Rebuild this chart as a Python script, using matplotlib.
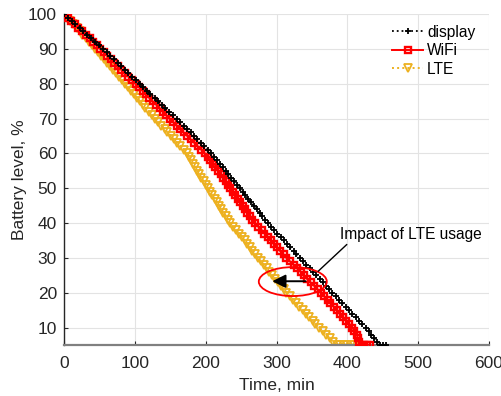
import matplotlib
matplotlib.use("Agg")
import matplotlib.pyplot as plt
from matplotlib.patches import Ellipse

plt.rcParams['font.family'] = ['Liberation Sans', 'DejaVu Sans']

# ---- data ----
display_level = [100, 99, 98, 97, 96, 95, 94, 93, 92, 91, 90, 89, 88, 87, 86, 85, 84, 83, 82, 81,
                 80, 79, 78, 77, 76, 75, 74, 73, 72, 71, 70, 69, 68, 67, 66, 65, 64, 63, 62, 61,
                 60, 59, 58, 57, 56, 55, 54, 53, 52, 51, 50, 49, 48, 47, 46, 45, 44, 43, 42, 41,
                 40, 39, 38, 37, 36, 35, 34, 33, 32, 31, 30, 29, 28, 27, 26, 25, 24, 23, 22, 21,
                 20, 19, 18, 17, 16, 15, 14, 13, 12, 11, 10, 9, 8, 7, 6, 5, 5, 5]
display_time = [0, 5, 11, 16, 22, 27, 33, 38, 44, 49, 55, 60, 65, 70, 76, 81, 86, 91, 96, 102,
                107, 112, 117, 122, 128, 133, 138, 143, 148, 154, 159, 164, 169, 174, 179, 184, 188, 193, 198, 203,
                208, 212, 216, 220, 224, 228, 232, 236, 240, 244, 248, 252, 256, 260, 264, 268, 272, 276, 280, 284,
                288, 292, 297, 301, 306, 310, 315, 319, 324, 328, 333, 338, 342, 347, 351, 356, 361, 365, 370, 374,
                379, 384, 388, 393, 398, 403, 407, 412, 417, 421, 426, 430, 434, 438, 442, 446, 450, 455]

wifi_level = [100, 99, 98, 97, 96, 95, 94, 93, 92, 91, 90, 89, 88, 87, 86, 85, 84, 83, 82, 81,
              80, 79, 78, 77, 76, 75, 74, 73, 72, 71, 70, 69, 68, 67, 66, 65, 64, 63, 62, 61,
              60, 59, 58, 57, 56, 55, 54, 53, 52, 51, 50, 49, 48, 47, 46, 45, 44, 43, 42, 41,
              40, 39, 38, 37, 36, 35, 34, 33, 32, 31, 30, 29, 28, 27, 26, 25, 24, 23, 22, 21,
              20, 19, 18, 17, 16, 15, 14, 13, 12, 11, 10, 9, 8, 7, 6, 5, 5, 5, 5]
wifi_time = [0, 5, 10, 15, 20, 26, 31, 36, 41, 46, 51, 56, 61, 66, 71, 76, 81, 86, 91, 96,
             101, 106, 111, 116, 120, 125, 130, 135, 140, 144, 149, 154, 159, 164, 169, 174, 179, 184, 189, 194,
             199, 203, 206, 210, 213, 217, 221, 224, 228, 231, 235, 238, 242, 245, 249, 252, 256, 259, 263, 266,
             270, 274, 279, 283, 288, 292, 296, 301, 305, 310, 314, 319, 324, 329, 334, 339, 343, 348, 353, 358,
             363, 367, 372, 376, 381, 385, 389, 394, 398, 403, 407, 410, 413, 415, 417, 420, 424, 428, 432]

lte_level = [100, 99, 98, 97, 96, 95, 94, 93, 92, 91, 90, 89, 88, 87, 86, 85, 84, 83, 82, 81,
             80, 79, 78, 77, 76, 75, 74, 73, 72, 71, 70, 69, 68, 67, 66, 65, 64, 63, 62, 61,
             60, 59, 58, 57, 56, 55, 54, 53, 52, 51, 50, 49, 48, 47, 46, 45, 44, 43, 42, 41,
             40, 39, 38, 37, 36, 35, 34, 33, 32, 31, 30, 29, 28, 27, 26, 25, 24, 23, 22, 21,
             20, 19, 18, 17, 16, 15, 14, 13, 12, 11, 10, 9, 8, 7, 6, 5, 5, 5, 5, 5, 5]
lte_time = [0, 4, 9, 13, 18, 22, 26, 31, 35, 40, 44, 48, 52, 57, 61, 65, 69, 73, 78, 82,
            86, 90, 94, 99, 103, 107, 111, 115, 120, 124, 128, 133, 137, 142, 146, 151, 155, 160, 164, 169,
            173, 176, 179, 182, 185, 188, 191, 194, 197, 200, 203, 206, 209, 213, 216, 219, 222, 225, 229, 232,
            235, 239, 243, 247, 251, 255, 259, 262, 266, 270, 274, 278, 282, 286, 290, 294, 298, 302, 306, 310,
            314, 319, 323, 328, 332, 337, 342, 346, 351, 355, 360, 365, 370, 375, 380, 385, 390, 395, 400, 405, 410]

series_labels = ["display", "WiFi", "LTE"]
x_ticks = [0, 100, 200, 300, 400, 500, 600]
y_ticks = [10, 20, 30, 40, 50, 60, 70, 80, 90, 100]
annotation_text = "Impact of LTE usage"

# ---- figure ----
fig = plt.figure(figsize=(5.02, 3.96), dpi=100)
ax = fig.add_axes([0.1275, 0.1288, 0.8466, 0.8358])

orange = (0.929, 0.694, 0.125)
ax.plot(display_time, display_level, color='black', linestyle=':', linewidth=1.3,
        marker='+', markersize=4.5, markeredgewidth=1.3, label=series_labels[0], zorder=4)
ax.plot(wifi_time, wifi_level, color='red', linestyle='-', linewidth=1.4,
        marker='s', markersize=4.3, markerfacecolor='none', markeredgewidth=1.7,
        label=series_labels[1], zorder=3)
ax.plot(lte_time, lte_level, color=orange, linestyle=':', linewidth=1.4,
        marker='v', markersize=6, markerfacecolor='none', markeredgewidth=1.3,
        label=series_labels[2], zorder=2)

ax.set_xlim(0, 600)
ax.set_ylim(5, 100)
ax.set_xticks(x_ticks)
ax.set_yticks(y_ticks)
ax.tick_params(axis='both', direction='in', length=3, width=0.8, labelsize=12.5, colors='#262626')
ax.tick_params(axis='x', pad=8)
ax.tick_params(axis='y', pad=5)
ax.grid(True, color='#e3e3e3', linewidth=0.8)
ax.set_axisbelow(True)
for s in ['top', 'right']:
    ax.spines[s].set_visible(False)
ax.spines['left'].set_color('#262626')
ax.spines['left'].set_linewidth(1.0)
ax.spines['bottom'].set_color('#808080')
ax.spines['bottom'].set_linewidth(1.6)

ax.set_xlabel("Time, min", fontsize=12.5, color='#262626', labelpad=5)
ax.set_ylabel("Battery level, %", fontsize=12.5, color='#262626', labelpad=1)

leg = ax.legend(loc='upper left', frameon=False, fontsize=11.2, handlelength=2.0,
                handletextpad=0.25, labelspacing=0.22, borderpad=0, borderaxespad=0,
                bbox_to_anchor=(0.772, 0.967))

# annotation
ell = Ellipse((323, 23.2), 96, 8.3, fill=False, edgecolor='red', linewidth=1.3, zorder=6)
ax.add_patch(ell)
ax.annotate("", xy=(294, 23.3), xytext=(341, 23.3),
            arrowprops=dict(arrowstyle='-|>', color='black', lw=1.4,
                            mutation_scale=20, shrinkA=0, shrinkB=0), zorder=7)
ax.plot([399, 359], [33.8, 26.2], color='black', linewidth=1.0, zorder=7)
ax.text(390, 36.7, annotation_text, fontsize=11.2, va='center', ha='left', color='black')

fig.savefig("out.png", dpi=100)
